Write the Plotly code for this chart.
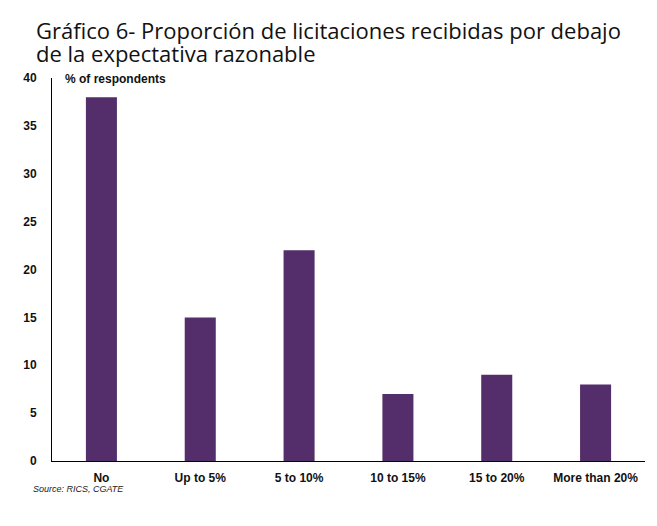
import plotly.graph_objects as go

categories = ["No", "Up to 5%", "5 to 10%", "10 to 15%", "15 to 20%", "More than 20%"]
values = [38, 15, 22, 7, 9, 8]
y_ticks = [0, 5, 10, 15, 20, 25, 30, 35, 40]

title_line1 = "Gráfico 6- Proporción de licitaciones recibidas por debajo"
title_line2 = "de la expectativa razonable"
unit_label = "% of respondents"
source_text = "Source: RICS, CGATE"

# page has an 8px body margin; work in page pixels and shift
OFF = 8
W, H = 657 - OFF, 526 - OFF
L, R, T, B = 52 - OFF, 12, 78 - OFF, 64.5
PH = H - T - B
PW = W - L - R


def px_x(p):
    return (p - OFF - L) / PW


def px_y(p):
    return (H - B - (p - OFF)) / PH


fig = go.Figure()
fig.add_trace(go.Bar(
    x=categories,
    y=values,
    marker=dict(color="#542D6B", line=dict(width=0)),
    hoverinfo="x+y",
))

tick_font = dict(family="Liberation Sans, Arial, sans-serif", size=12, color="#111111", weight="bold")
title_font = dict(family="Open Sans, sans-serif", size=22, color="#111111")

fig.update_layout(
    width=W,
    height=H,
    margin=dict(l=L, r=R, t=T, b=B),
    paper_bgcolor="white",
    plot_bgcolor="white",
    showlegend=False,
    bargap=0.686,
    xaxis=dict(
        showline=True, linecolor="black", linewidth=1,
        showgrid=False, ticks="", tickfont=tick_font,
        ticklabelstandoff=6,
    ),
    yaxis=dict(
        range=[0, 40], tickvals=y_ticks,
        showline=True, linecolor="black", linewidth=1,
        showgrid=False, zeroline=False, ticks="", tickfont=tick_font,
        ticklabelstandoff=12,
    ),
    annotations=[
        dict(text=title_line1, x=px_x(34), y=px_y(30), xref="paper", yref="paper",
             xanchor="left", yanchor="middle", showarrow=False, font=title_font),
        dict(text=title_line2, x=px_x(34), y=px_y(53), xref="paper", yref="paper",
             xanchor="left", yanchor="middle", showarrow=False, font=title_font),
        dict(text=unit_label, x=px_x(63), y=px_y(79), xref="paper", yref="paper",
             xanchor="left", yanchor="middle", showarrow=False,
             font=dict(family="Liberation Sans, Arial, sans-serif", size=12, color="#111111", weight="bold")),
        dict(text=source_text, x=px_x(31), y=px_y(490), xref="paper", yref="paper",
             xanchor="left", yanchor="middle", showarrow=False,
             font=dict(family="Liberation Sans, Arial, sans-serif", size=9, color="#222222", style="italic")),
    ],
)

fig.write_html("out.html")
